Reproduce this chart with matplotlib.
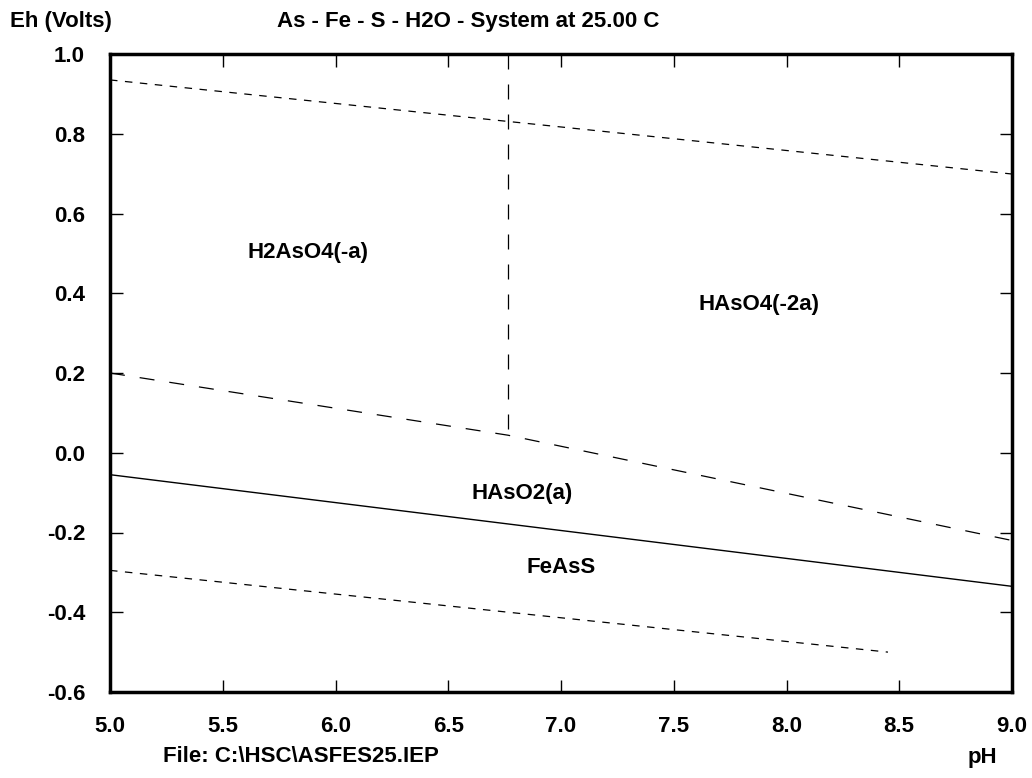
import matplotlib
matplotlib.use("Agg")
import matplotlib.pyplot as plt

plt.rcParams['font.family'] = ['Liberation Sans', 'DejaVu Sans']

# boundary lines (pH, Eh)
agua_sup_ph = [5.0, 9.0]
agua_sup_eh = [0.935, 0.699]
agua_inf_ph = [5.0, 8.45]
agua_inf_eh = [-0.295, -0.500]
arsenato_ph = [5.0, 6.765, 9.0]
arsenato_eh = [0.200, 0.044, -0.220]
vertical_ph = [6.765, 6.765]
vertical_eh = [1.0, 0.044]
feass_ph = [5.0, 9.0]
feass_eh = [-0.055, -0.335]

# species labels
especies = ["H2AsO4(-a)", "HAsO4(-2a)", "HAsO2(a)", "FeAsS"]
especies_ph = [5.876, 7.878, 6.827, 7.00]
especies_eh = [0.501, 0.371, -0.103, -0.289]

x_ticks = [5.0, 5.5, 6.0, 6.5, 7.0, 7.5, 8.0, 8.5, 9.0]
y_ticks = [1.0, 0.8, 0.6, 0.4, 0.2, 0.0, -0.2, -0.4, -0.6]

fs = 16

fig = plt.figure(figsize=(10.32, 7.78), dpi=100)
ax = fig.add_axes([110/1032, 1 - 692/778, 902/1032, 638/778])

ax.plot(agua_sup_ph, agua_sup_eh, color="black", lw=0.9, dashes=(6, 6))
ax.plot(agua_inf_ph, agua_inf_eh, color="black", lw=0.9, dashes=(6, 6))
ax.plot(arsenato_ph, arsenato_eh, color="black", lw=0.9, dashes=(12, 12))
ax.plot(vertical_ph, vertical_eh, color="black", lw=0.9, dashes=(12, 12))
ax.plot(feass_ph, feass_eh, color="black", lw=1.0)

for nome, px, ey in zip(especies, especies_ph, especies_eh):
    ax.text(px, ey, nome, ha="center", va="center", fontsize=fs, fontweight="bold")

ax.set_xlim(5.0, 9.0)
ax.set_ylim(-0.6, 1.0)
ax.set_xticks(x_ticks)
ax.set_yticks(y_ticks)
ax.set_xticklabels([f"{v:.1f}" for v in x_ticks], fontsize=fs, fontweight="bold")
ax.set_yticklabels([f"{v:.1f}" for v in y_ticks], fontsize=fs, fontweight="bold")
ax.tick_params(direction="in", length=9, width=1, top=True, right=True)
ax.tick_params(axis="x", pad=17)
ax.tick_params(axis="y", pad=18)
for s in ax.spines.values():
    s.set_linewidth(2.5)

fig.text(10/1032, 1 - 22/778, "Eh (Volts)", fontsize=fs, fontweight="bold", va="center")
fig.text(277/1032, 1 - 22/778, "As - Fe - S - H2O - System at 25.00 C", fontsize=fs, fontweight="bold", va="center")
fig.text(163/1032, 1 - 757/778, "File: C:\\HSC\\ASFES25.IEP", fontsize=fs, fontweight="bold", va="center")
fig.text(968/1032, 1 - 757/778, "pH", fontsize=fs, fontweight="bold", va="center")

fig.savefig("out.png", dpi=100)
